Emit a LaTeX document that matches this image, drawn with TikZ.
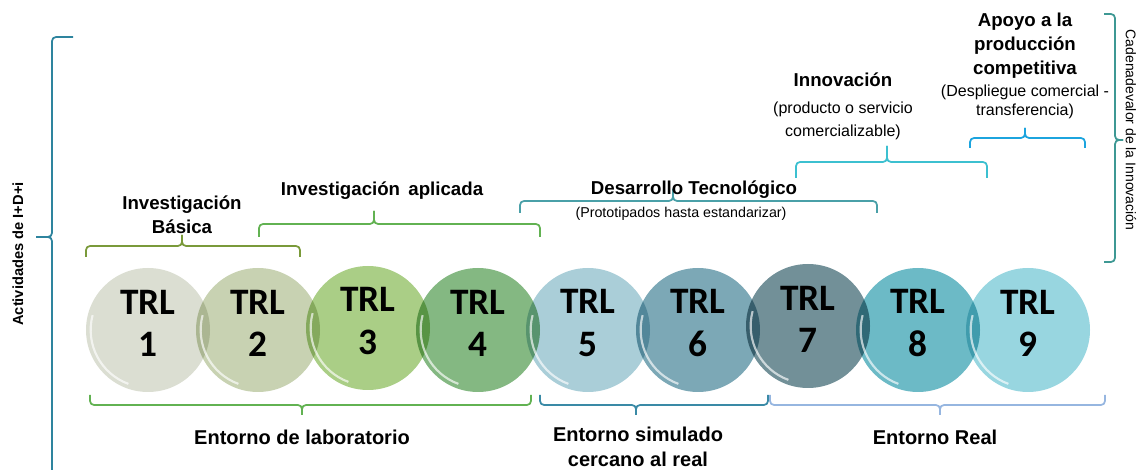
\documentclass[tikz,border=0pt]{standalone}
\usepackage{fontspec}
\setmainfont{Liberation Sans}
\newfontfamily\trlfont{Carlito}
\usetikzlibrary{positioning}
\definecolor{verdeoliva}{RGB}{122,154,58}
\definecolor{verde}{RGB}{98,178,82}
\definecolor{teal}{RGB}{74,160,168}
\definecolor{cian}{RGB}{60,192,208}
\definecolor{azul}{RGB}{28,164,222}
\definecolor{petroleo}{RGB}{46,132,158}
\definecolor{verdemar}{RGB}{62,152,148}
\definecolor{azulsim}{RGB}{58,138,166}
\definecolor{celeste}{RGB}{150,182,224}
\tikzset{
    trl/.style={
           circle,
           minimum size=93pt,
           inner sep=0pt},
    trltexto/.style={
           align=center,
           yshift=5pt,
           font=\trlfont\bfseries\fontsize{28}{32}\selectfont},
    brillo/.style={
           white, opacity=.65,
           line width=1.6pt},
    titulo/.style={
           font=\bfseries\fontsize{14}{18}\selectfont,
           align=center,
           inner sep=0pt},
    entorno/.style={
           font=\bfseries\fontsize{15}{18.5}\selectfont,
           align=center,
           inner sep=0pt},
    nota/.style={
           font=\fontsize{12}{17}\selectfont,
           align=center,
           inner sep=0pt},
    llave/.style={
           line width=1.3pt,
           rounded corners=3pt}
}
% llave horizontal: x1, x2, x medio, y, alto (+ abre hacia abajo, - hacia arriba), color
\newcommand{\llaveh}[6]{
    \draw[llave, #6] (#1,#4+#5) -- (#1,#4) -- (#3,#4) -- (#3,#4-#5);
    \draw[llave, #6] (#2,#4+#5) -- (#2,#4) -- (#3,#4) -- (#3,#4-#5);
}

\begin{document}
\begin{tikzpicture}[x=0.75pt, y=-0.75pt]
          \useasboundingbox (0,0) rectangle (1140,470);
          \def \cy {330}
          % niveles TRL
          \begin{scope}[blend group=multiply]
          \node[trl, fill={rgb,255:red,219;green,222;blue,210}, label={[trltexto]center:TRL\\1}](trl1) at (148,\cy) {};
          \node[trl, fill={rgb,255:red,200;green,210;blue,178}, label={[trltexto]center:TRL\\2}](trl2) at (258,\cy) {};
          \node[trl, fill={rgb,255:red,170;green,206;blue,134}, label={[trltexto]center:TRL\\3}](trl3) at (368,\cy-2) {};
          \node[trl, fill={rgb,255:red,132;green,184;blue,130}, label={[trltexto]center:TRL\\4}](trl4) at (478,\cy) {};
          \node[trl, fill={rgb,255:red,170;green,206;blue,216}, label={[trltexto]center:TRL\\5}](trl5) at (588,\cy) {};
          \node[trl, fill={rgb,255:red,124;green,168;blue,182}, label={[trltexto]center:TRL\\6}](trl6) at (698,\cy) {};
          \node[trl, fill={rgb,255:red,114;green,144;blue,152}, label={[trltexto]center:TRL\\7}](trl7) at (808,\cy-4) {};
          \node[trl, fill={rgb,255:red,108;green,186;blue,198}, label={[trltexto]center:TRL\\8}](trl8) at (918,\cy) {};
          \node[trl, fill={rgb,255:red,152;green,214;blue,224}, label={[trltexto]center:TRL\\9}](trl9) at (1028,\cy) {};
          \end{scope}
          \foreach \n in {1,...,9}
              \draw[brillo] ([shift={(165:43pt)}]trl\n.center) arc (165:250:43pt);
          % llaves superiores
          \llaveh{86}{300}{182}{246}{11}{verdeoliva}
          \llaveh{259}{540}{374}{224}{13}{verde}
          \llaveh{520}{877}{673}{201}{12}{teal}
          \llaveh{796}{987}{887}{162}{16}{cian}
          \llaveh{970}{1085}{1025}{138}{10}{azul}
          % llaves inferiores
          \llaveh{90}{531}{302}{405}{-10}{verde}
          \llaveh{540}{768}{636}{405}{-10}{azulsim}
          \llaveh{770}{1105}{940}{405}{-10}{celeste}
          % llaves verticales
          \draw[llave, petroleo] (73,37) -- (52,37) -- (52,237) -- (36,237);
          \draw[llave, petroleo] (52,480) -- (52,237) -- (36,237);
          \draw[llave, verdemar] (1104,14) -- (1115,14) -- (1115,140) -- (1123,140);
          \draw[llave, verdemar] (1104,262) -- (1115,262) -- (1115,140) -- (1123,140);
          % textos
          \node[titulo](basica) at (182,215) {Investigación\\Básica};
          \node[titulo](aplicada) at (382,191) {Investigación\, aplicada};
          \node[titulo](desarrollo) at (694,190) {Desarrollo Tecnológico};
          \node[nota, font=\fontsize{10.7}{14}\selectfont](prototipos) at (681,214) {(Prototipados hasta estandarizar)};
          \node[titulo](innovacion) at (843,80) {Innovación};
          \node[nota](producto) at (843,121) {(producto o servicio\\comercializable)};
          \node[titulo](apoyo) at (1025,46) {Apoyo a la\\producción\\competitiva};
          \node[nota, font=\fontsize{12}{14.5}\selectfont](despliegue) at (1025,102) {(Despliegue comercial -\\transferencia)};
          \node[entorno](laboratorio) at (302,437) {Entorno de laboratorio};
          \node[entorno](simulado) at (638,447) {Entorno simulado\\cercano al real};
          \node[entorno](real) at (935,437) {Entorno Real};
          \node[font=\bfseries\fontsize{11}{13}\selectfont, rotate=90](actividades) at (18,254) {Actividades de I+D+i};
          \node[font=\fontsize{10.5}{12}\selectfont, rotate=-90](cadena) at (1131,130) {Cadenadevalor de la Innovación};
\end{tikzpicture}
\end{document}
